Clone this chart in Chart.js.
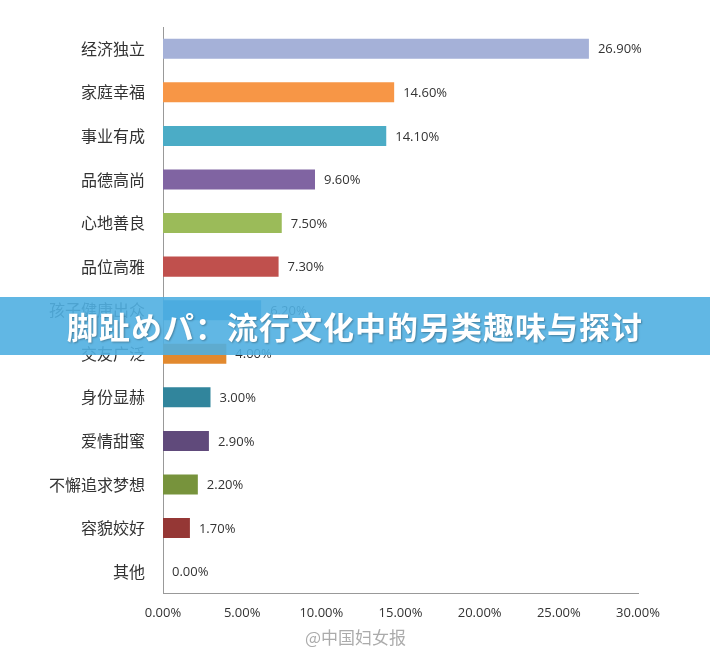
<!DOCTYPE html>
<html><head><meta charset="utf-8">
<script src="https://cdn.jsdelivr.net/npm/chart.js@4/dist/chart.umd.min.js"></script>
<style>
body{margin:0;background:#fff;font-family:"Noto Sans CJK SC",sans-serif}
#w{position:relative;width:710px;height:655px}
#banner{position:absolute;left:0;top:297px;width:710px;height:58px;background:rgba(80,175,225,0.9);color:#fff;font-weight:bold;font-size:31px;line-height:58px;text-align:center;letter-spacing:1px;text-shadow:1px 1px 2px rgba(0,0,0,0.3)}
#wm{position:absolute;left:305px;top:624px;color:rgba(150,150,150,0.8);font-size:17px}
</style></head><body>
<div id="w"><canvas id="c" width="710" height="655"></canvas>
<div id="banner">脚趾めパ：流行文化中的另类趣味与探讨</div>
<div id="wm">@中国妇女报</div></div>
<script>
const categories=["经济独立","家庭幸福","事业有成","品德高尚","心地善良","品位高雅","孩子健康出众","交友广泛","身份显赫","爱情甜蜜","不懈追求梦想","容貌姣好","其他"];
const values=[26.9,14.6,14.1,9.6,7.5,7.3,6.2,4.0,3.0,2.9,2.2,1.7,0.0];
const colors=["#a5b1d8","#f79646","#4bacc6","#8064a2","#9bbb59","#c0504d","#2a8fd8","#e2892e","#31859c","#604a7b","#77933c","#953735","#888888"];
const xTicks=[0,5,10,15,20,25,30];
const labelPlugin={id:'lbl',afterDatasetsDraw(ch){const c=ch.ctx;const m=ch.getDatasetMeta(0);c.save();c.font='13px "Open Sans", sans-serif';c.fillStyle='#333';c.textBaseline='middle';
m.data.forEach((b,i)=>{c.fillText(values[i].toFixed(2)+'%',b.x+9,b.y+1);});c.restore();}};
new Chart(document.getElementById('c'),{type:'bar',data:{labels:categories,datasets:[{data:values,backgroundColor:colors,categoryPercentage:1,barPercentage:0.46}]},
options:{indexAxis:'y',responsive:false,animation:false,layout:{padding:{left:10,right:72,top:27,bottom:30}},
plugins:{legend:{display:false},tooltip:{enabled:false}},
scales:{x:{min:0,max:30,afterBuildTicks(s){s.ticks=xTicks.map(v=>({value:v}));},grid:{display:false,drawTicks:true},border:{color:'#999'},
ticks:{color:'#333',font:{size:13,family:'"Open Sans", sans-serif'},callback:v=>v.toFixed(2)+'%',padding:4}},
y:{afterFit(s){s.width=153;},grid:{display:false},border:{color:'#999'},ticks:{color:'#333',font:{size:16,family:'"Noto Sans CJK SC"'},padding:10}}}},
plugins:[labelPlugin]});
</script></body></html>
